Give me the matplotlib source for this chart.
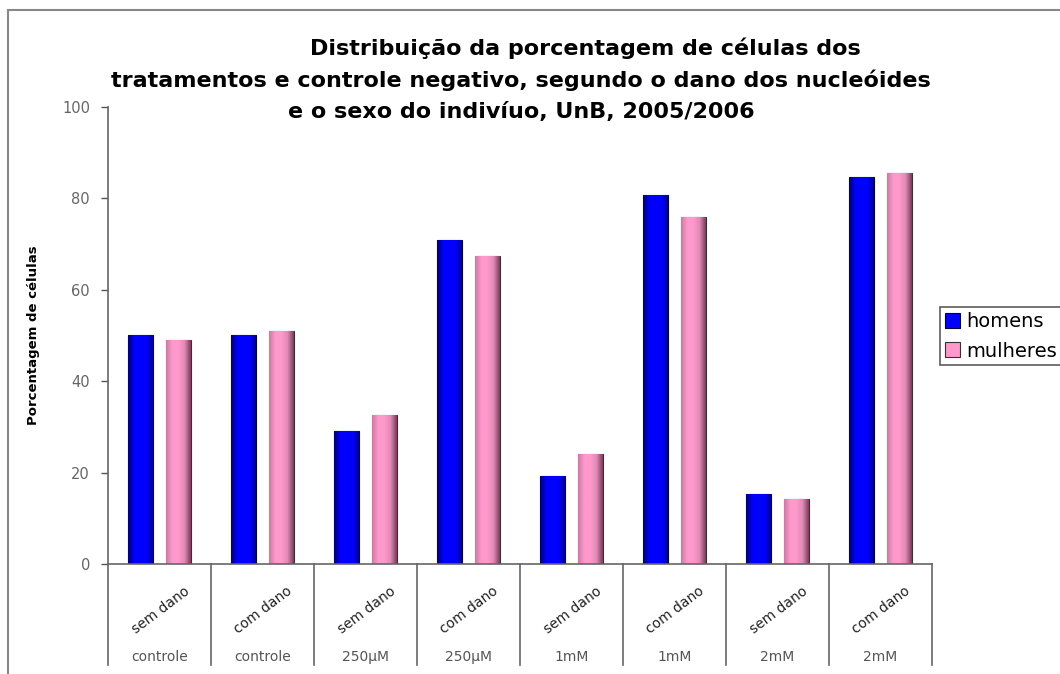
import numpy as np
import matplotlib.pyplot as plt
from matplotlib.patches import Rectangle
from matplotlib.colors import LinearSegmentedColormap

plt.rcParams['font.family'] = ['DejaVu Sans']

# dados
dano = ['sem dano', 'com dano', 'sem dano', 'com dano', 'sem dano', 'com dano', 'sem dano', 'com dano']
tratamento = ['controle', 'controle', '250µM', '250µM', '1mM', '1mM', '2mM', '2mM']
homens = [50.1, 50.1, 29.0, 71.0, 19.2, 80.8, 15.3, 84.7]
mulheres = [49.1, 50.9, 32.5, 67.5, 24.0, 76.0, 14.3, 85.6]

fig = plt.figure(figsize=(10.6, 6.74), dpi=100)
W, H = 1060, 674

# moldura da área do gráfico
fig.patches.append(Rectangle((8 / W, -0.1), 1.2, 1 - 10 / H + 0.1, transform=fig.transFigure,
                             fill=False, edgecolor='#888888', linewidth=1.5))

ax = fig.add_axes([108 / W, 1 - 564 / H, (932 - 108) / W, (564 - 107) / H])

x = np.arange(len(dano))
larg = 0.24
b1 = ax.bar(x - 0.187, homens, larg, color='#0000ff', edgecolor='#000033', linewidth=0.8, label='homens')
b2 = ax.bar(x + 0.187, mulheres, larg, color='#ff99cc', edgecolor='#333333', linewidth=0.8, label='mulheres')

# sombreamento das barras
cm_azul = LinearSegmentedColormap.from_list('az', ['#000070', '#0000ff', '#0000ff', '#0000ff', '#000090'])
cm_rosa = LinearSegmentedColormap.from_list('rs', ['#cc7aa3', '#ff99cc', '#ff99cc', '#e08ab5', '#7a3d5c'])
grad = np.linspace(0, 1, 64).reshape(1, -1)
for barras, cm in ((b1, cm_azul), (b2, cm_rosa)):
    for r in barras:
        x0, w, h = r.get_x(), r.get_width(), r.get_height()
        im = ax.imshow(grad, cmap=cm, aspect='auto', extent=(x0, x0 + w, 0, h), zorder=r.get_zorder())
        im.set_clip_path(r)

ax.set_xlim(-0.5, len(dano) - 0.5)
ax.set_ylim(0, 100)
ax.set_yticks([0, 20, 40, 60, 80, 100])
ax.tick_params(axis='y', colors='#555555', labelcolor='#666666', labelsize=10.5, length=5, width=1, pad=8)
ax.set_xticks([])
for s in ['top', 'right']:
    ax.spines[s].set_visible(False)
for s in ['left', 'bottom']:
    ax.spines[s].set_color('#666666')
    ax.spines[s].set_linewidth(1.2)

ax.set_ylabel('Porcentagem de células', fontsize=9.5, fontweight='bold', labelpad=16)

# eixo de categorias em dois níveis
tr = ax.get_xaxis_transform()
for i in range(len(dano) + 1):
    ax.plot([i - 0.5, i - 0.5], [0, -101 / 457], transform=tr, color='#666666', lw=1.2, clip_on=False)
for i in range(len(dano)):
    ax.text(i + 0.01, -46 / 457, dano[i], transform=tr, rotation=37, ha='center', va='center',
            rotation_mode='anchor', fontsize=10, color='#222222')
    ax.text(i, -93 / 457, tratamento[i], transform=tr, ha='center', va='center',
            fontsize=10, color='#555555')

titulo = ['Distribuição da porcentagem de células dos',
          'tratamentos e controle negativo, segundo o dano dos nucleóides',
          'e o sexo do indivíuo, UnB, 2005/2006']
for txt, cx, by in zip(titulo, [585, 521, 521], [55, 87, 118]):
    fig.text(cx / W, 1 - by / H, txt, ha='center', va='baseline', fontsize=16, fontweight='bold')

leg = fig.legend(handles=[b1, b2], loc='upper left', bbox_to_anchor=(940 / W, 1 - 307 / H),
                 fontsize=14, frameon=True, fancybox=False, edgecolor='#333333',
                 handlelength=0.8, handleheight=0.8, handletextpad=0.3, borderpad=0.25,
                 labelspacing=0.55, borderaxespad=0)
leg.get_frame().set_linewidth(1.2)

fig.savefig('out.png', dpi=100)
